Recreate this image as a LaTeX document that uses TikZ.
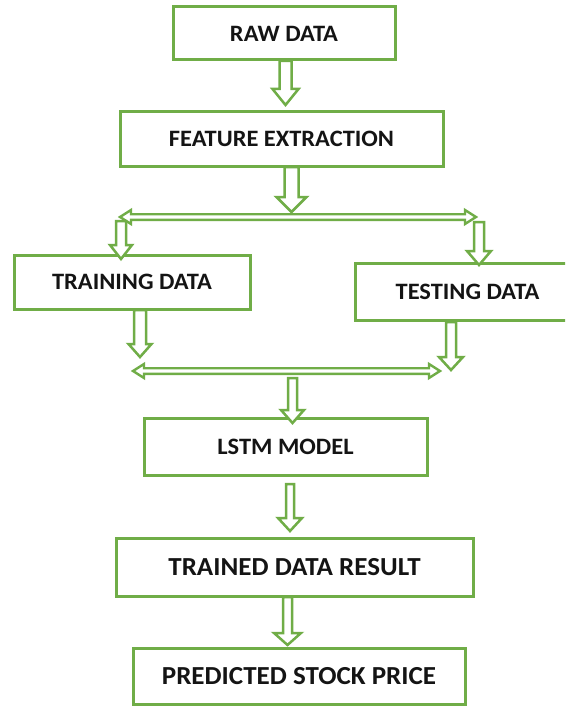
\documentclass[tikz,border=0pt]{standalone}
\usepackage{fontspec}
\setmainfont{Carlito}[FakeStretch=1.04]
\usetikzlibrary{calc}
\definecolor{boxgreen}{RGB}{112,173,71}
\tikzset{
  box/.style={draw=boxgreen, line width=3pt, fill=white, align=center, inner sep=0pt,
              font=\bfseries\fontsize{23.5}{26}\selectfont, text=black!92},
  bigtext/.style={font=\bfseries\fontsize{26}{30}\selectfont},
  blk/.style={draw=boxgreen, line width=2.5pt, fill=white, line join=miter},
  hblkstyle/.style={draw=boxgreen, line width=2.4pt, fill=white, line join=miter}
}
% vertical hollow block arrow: start, end, shaft half, head half, head length
\newcommand\vblk[5]{%
  \draw[blk] let \p1=(#1), \p2=(#2) in
    (\x1-#3pt,\y1) -- (\x1-#3pt,\y2+#5pt) -- (\x1-#4pt,\y2+#5pt) -- (\x1,\y2)
    -- (\x1+#4pt,\y2+#5pt) -- (\x1+#3pt,\y2+#5pt) -- (\x1+#3pt,\y1) -- cycle;}
% horizontal double-headed hollow arrow: left, right, shaft half, head half, head length
\newcommand\hblk[5]{%
  \draw[hblkstyle] let \p1=(#1), \p2=(#2) in
    (\x1,\y1) -- (\x1+#5pt,\y1+#4pt) -- (\x1+#5pt,\y1+#3pt) -- (\x2-#5pt,\y1+#3pt)
    -- (\x2-#5pt,\y1+#4pt) -- (\x2,\y1) -- (\x2-#5pt,\y1-#4pt) -- (\x2-#5pt,\y1-#3pt)
    -- (\x1+#5pt,\y1-#3pt) -- (\x1+#5pt,\y1-#4pt) -- cycle;}
\begin{document}
\begin{tikzpicture}[x=1pt,y=-1pt]
\useasboundingbox (0,0) rectangle (565,706);
\clip (0,0) rectangle (565,706);
\fill[white] (0,0) rectangle (565,706);

% boxes
\node[box, minimum width=222, minimum height=53] (raw) at (284,33.5) {RAW DATA};
\node[box, minimum width=323, minimum height=54] (feat) at (281.5,139) {FEATURE EXTRACTION};
\node[box, minimum width=236, minimum height=54] (train) at (132,282) {TRAINING DATA};
\node[box, minimum width=225, minimum height=57] (test) at (467.5,291.5) {TESTING DATA};
\node[box, minimum width=283, minimum height=57] (lstm) at (285.5,446.5) {LSTM MODEL};
\node[box, bigtext, minimum width=357, minimum height=58] (trained) at (294.5,567) {TRAINED DATA RESULT};
\node[box, bigtext, minimum width=332, minimum height=56] (pred) at (299,676) {PREDICTED STOCK PRICE};

% connector end points
\coordinate (a1s) at (285.5,61);   \coordinate (a1e) at (285.5,105);
\coordinate (a2s) at (291.5,167);  \coordinate (a2e) at (291.5,212);
\coordinate (s1l) at (120,217);    \coordinate (s1r) at (476,217);
\coordinate (a3s) at (121,221);    \coordinate (a3e) at (121,259);
\coordinate (a4s) at (479,222);    \coordinate (a4e) at (479,265);
\coordinate (a5s) at (140,310);    \coordinate (a5e) at (140,357);
\coordinate (a6s) at (451,322);    \coordinate (a6e) at (451,370);
\coordinate (s2l) at (133,371);    \coordinate (s2r) at (440,371);
\coordinate (a7s) at (292.5,378);  \coordinate (a7e) at (292.5,423);
\coordinate (a8s) at (290,484);    \coordinate (a8e) at (290,531);
\coordinate (a9s) at (287.5,597);  \coordinate (a9e) at (287.5,645);

% arrows
\vblk{a1s}{a1e}{6}{13}{16}
\vblk{a2s}{a2e}{7}{15}{15}
\hblk{s1l}{s1r}{2.8}{7}{11}
\vblk{a3s}{a3e}{5}{11}{14}
\vblk{a4s}{a4e}{5}{12}{14}
\vblk{a5s}{a5e}{6}{11.5}{13}
\vblk{a6s}{a6e}{5}{12}{13}
\hblk{s2l}{s2r}{2.8}{7}{11}
\vblk{a7s}{a7e}{4.5}{11.5}{13}
\vblk{a8s}{a8e}{4}{12}{13}
\vblk{a9s}{a9e}{4.5}{13.5}{12}
\end{tikzpicture}
\end{document}
